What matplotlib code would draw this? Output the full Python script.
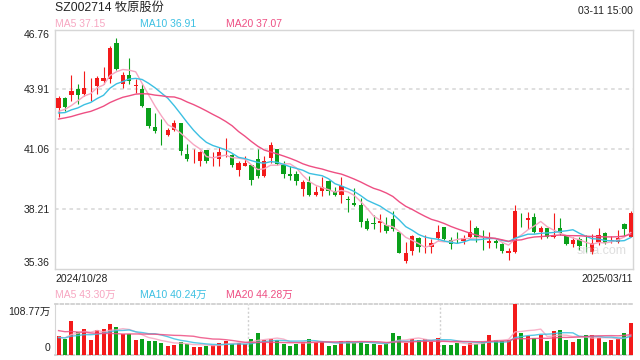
import matplotlib
matplotlib.use("Agg")
import matplotlib.pyplot as plt
import numpy as np
import pandas as pd

# ---- data ----
stock_title = "SZ002714 牧原股份"
stamp = "03-11 15:00"
first_date = "2024/10/28"
last_date = "2025/03/11"

# daily OHLC, 2024/10/28 .. 2025/03/11 (90 trading days)
open_ = [43.01, 43.51, 43.64, 43.91, 43.66, 44.00, 44.07, 44.31, 44.42, 46.11,
         44.18, 44.58, 44.06, 43.91, 43.00, 42.10, 41.98, 41.75, 41.99, 42.28,
         40.84, 40.57, 40.48, 41.00, 40.63, 40.56, 40.86, 40.75, 40.08, 40.27,
         40.32, 40.59, 39.76, 40.61, 41.04, 40.32, 39.89, 39.89, 39.15, 39.47,
         38.88, 39.04, 39.52, 39.04, 38.88, 38.65, 38.49, 38.40, 37.64, 37.50,
         37.52, 37.44, 37.73, 37.08, 35.73, 36.21, 36.81, 36.32, 36.38, 36.81,
         37.33, 36.72, 36.77, 36.69, 36.88, 37.29, 36.73, 36.60, 36.68, 36.53,
         36.09, 36.17, 37.73, 37.65, 37.81, 37.08, 37.29, 36.86, 37.29, 36.92,
         36.53, 36.76, 36.34, 36.17, 36.64, 37.07, 36.68, 36.64, 37.49, 36.88]
high = [43.59, 43.54, 44.58, 44.15, 44.80, 44.44, 44.55, 44.95, 45.98, 46.34,
        44.74, 45.38, 44.39, 44.18, 43.00, 42.79, 42.47, 42.08, 42.44, 42.32,
        41.28, 41.04, 40.96, 41.00, 40.91, 41.15, 41.60, 40.80, 40.48, 40.72,
        40.32, 41.07, 40.72, 41.39, 41.07, 40.48, 40.24, 40.00, 39.60, 39.79,
        39.31, 39.73, 39.60, 39.25, 39.71, 38.80, 39.20, 38.72, 37.76, 37.92,
        37.97, 37.84, 38.11, 37.08, 36.64, 36.96, 36.88, 36.96, 36.76, 37.44,
        37.33, 36.86, 37.08, 36.96, 37.65, 37.40, 37.20, 37.08, 36.76, 36.60,
        36.33, 38.40, 38.03, 38.05, 38.03, 37.40, 37.29, 38.03, 37.79, 36.96,
        36.88, 36.88, 36.96, 37.01, 37.28, 37.12, 36.92, 37.20, 37.55, 38.08]
low = [42.60, 42.87, 43.35, 43.19, 43.59, 43.35, 43.67, 44.18, 44.23, 44.82,
       43.99, 44.15, 43.75, 43.08, 42.04, 41.80, 41.24, 41.67, 41.91, 40.75,
       40.48, 40.40, 40.27, 40.40, 40.27, 40.24, 40.69, 40.19, 39.79, 40.24,
       39.36, 39.68, 39.73, 40.40, 40.32, 39.68, 39.60, 39.36, 38.83, 38.83,
       38.83, 38.83, 38.88, 38.80, 38.48, 38.05, 38.35, 37.36, 37.20, 37.24,
       37.12, 37.04, 37.17, 36.09, 35.64, 36.00, 36.16, 36.09, 36.09, 36.72,
       36.72, 36.28, 36.60, 36.52, 36.81, 36.64, 36.25, 36.33, 36.33, 36.12,
       35.77, 36.12, 37.36, 37.24, 37.04, 36.76, 36.81, 36.81, 36.96, 36.48,
       36.40, 36.24, 36.17, 36.05, 36.48, 36.53, 36.57, 36.57, 36.92, 36.85]
close = [43.48, 43.08, 43.81, 43.62, 43.96, 44.04, 44.47, 44.47, 45.87, 44.87,
         44.58, 44.31, 44.08, 43.11, 42.15, 41.91, 41.96, 41.95, 42.31, 40.95,
         40.56, 40.59, 40.91, 40.48, 40.65, 40.91, 40.88, 40.32, 40.37, 40.37,
         39.57, 39.76, 40.51, 41.23, 40.35, 39.89, 39.79, 39.52, 39.47, 38.88,
         38.99, 39.23, 39.04, 38.88, 39.28, 38.63, 38.40, 37.57, 37.25, 37.48,
         37.63, 37.16, 37.24, 36.12, 36.09, 36.92, 36.38, 36.34, 36.57, 37.12,
         36.76, 36.52, 36.75, 36.81, 37.12, 36.86, 36.71, 36.68, 36.57, 36.21,
         36.21, 38.11, 37.71, 37.79, 37.12, 37.29, 36.86, 36.91, 37.05, 36.53,
         36.72, 36.44, 36.32, 36.57, 36.96, 36.60, 36.70, 36.81, 37.24, 38.03]
# volume, 万 shares
volume = [40.8, 34.3, 71.5, 50.0, 55.0, 32.0, 53.6, 55.8, 67.0, 60.0,
          44.4, 45.0, 32.0, 34.3, 30.7, 30.7, 26.4, 19.3, 21.5, 28.6,
          23.6, 17.9, 17.9, 19.3, 21.5, 26.4, 30.7, 23.6, 26.4, 23.6,
          34.3, 47.9, 32.0, 34.3, 32.0, 23.6, 19.3, 23.6, 28.6, 34.3,
          28.6, 28.6, 19.3, 21.5, 30.7, 30.7, 26.4, 28.6, 23.6, 23.6,
          21.5, 23.6, 47.9, 40.8, 26.4, 34.3, 32.0, 34.3, 28.6, 36.5,
          21.5, 21.5, 26.4, 19.3, 26.4, 23.6, 28.6, 42.9, 32.0, 30.7,
          32.0, 108.77, 47.9, 40.8, 35.8, 42.9, 30.7, 51.5, 53.6, 32.0,
          28.6, 34.3, 42.9, 42.9, 35.8, 28.6, 32.0, 34.3, 47.9, 69.3]
# sessions before the window, only needed to start the moving averages
prev_close = [42.0, 42.5, 41.8, 42.3, 42.6, 42.1, 41.9, 42.4, 42.2, 42.2,
              42.9, 42.5, 42.7, 42.4, 43.0, 42.6, 42.9, 42.5, 42.8]
prev_volume = [80, 62, 75, 58, 70, 66, 60, 72, 64, 63,
               40, 33, 38, 35, 34, 41, 36, 38, 34]

price_ticks = [35.36, 38.21, 41.06, 43.91, 46.76]
vol_max = 108.77
ma_periods = [5, 10, 20]
ma_price_text = ["MA5 37.15", "MA10 36.91", "MA20 37.07"]
ma_vol_text = ["MA5 43.30万", "MA10 40.24万", "MA20 44.28万"]

# ---- style ----
plt.rcParams['font.family'] = ['Liberation Sans', 'Noto Sans CJK SC', 'DejaVu Sans']
UP, DOWN = '#f31a1a', '#0aa01a'
MA_COLORS = ['#f7a6c1', '#3cc0e2', '#ee4f83']
FRAME = '#d6d6d6'
TXT = '#222222'

W, H = 640, 360
fig = plt.figure(figsize=(6.4, 3.6), dpi=100)


def fx(px):
    return px / W


def fy(py):
    return 1 - py / H


ax = fig.add_axes([fx(55), fy(268.5), fx(633) - fx(55), fy(29.5) - fy(268.5)])
vax = fig.add_axes([fx(55), fy(355), fx(633) - fx(55), fy(304) - fy(355)])

n = len(close)
x = np.arange(n)
o = np.array(open_)
c = np.array(close)
colors = [UP if c[i] >= o[i] else DOWN for i in range(n)]

# moving averages
all_close = pd.Series(prev_close + close)
all_vol = pd.Series(prev_volume + volume)
ma_close = [all_close.rolling(p).mean().values[-n:] for p in ma_periods]
ma_vol = [all_vol.rolling(p).mean().values[-n:] for p in ma_periods]

# candles
ax.vlines(x, low, high, colors=colors, linewidth=0.8, zorder=3)
body_lo = np.minimum(o, c)
body_h = np.maximum(np.abs(c - o), 0.03)
ax.bar(x, body_h, bottom=body_lo, width=0.68, color=colors, linewidth=0, zorder=4)
for m, col in zip(ma_close, MA_COLORS):
    ax.plot(x, m, color=col, linewidth=1.0, zorder=5)

xlim = (-0.55, n - 0.65)
ax.set_xlim(*xlim)
ax.set_ylim(price_ticks[0], price_ticks[-1])
for t in price_ticks[1:-1]:
    ax.axhline(t, color='#dcdcdc', linewidth=1.3, linestyle=(0, (2, 2)), zorder=1)
ax.set_xticks([])
ax.set_yticks(price_ticks)
ax.set_yticklabels([f"{t:.2f}" for t in price_ticks])
ax.tick_params(axis='y', length=0, pad=4, labelsize=7.5, labelcolor=TXT)
labs = ax.get_yticklabels()
labs[0].set_verticalalignment('bottom')
labs[-1].set_verticalalignment('top')
for s in ax.spines.values():
    s.set_color(FRAME)
    s.set_linewidth(1.0)

# volume
vax.bar(x, volume, width=0.62, color=colors, linewidth=0, zorder=3)
for m, col in zip(ma_vol, MA_COLORS):
    vax.plot(x, m, color=col, linewidth=1.0, alpha=0.85, zorder=4)
vax.set_xlim(*xlim)
vax.set_ylim(0, vol_max)
vax.set_xticks([])
vax.set_yticks([])
vax.annotate(f"{vol_max:.2f}万", xy=(0, vol_max), xycoords=('axes fraction', 'data'),
             xytext=(-3, -6), textcoords='offset points', fontsize=7.5,
             color=TXT, ha='right', va='center')
vax.annotate("0", xy=(0, 0), xycoords=('axes fraction', 'data'),
             xytext=(-3, 5), textcoords='offset points', fontsize=7.5,
             color=TXT, ha='right', va='center')
for k in (1, 2):
    vax.axvline(xlim[0] + (xlim[1] - xlim[0]) * k / 3, color='#d0d0d0',
                linewidth=1.0, linestyle=(0, (1.5, 1.5)), zorder=1)
vax.spines['right'].set_visible(False)
vax.spines['left'].set_color(FRAME)
for side in ('top', 'bottom'):
    vax.spines[side].set_color('#d0d0d0')
    vax.spines[side].set_linestyle((0, (1.5, 1.5)))
    vax.spines[side].set_linewidth(1.3)

# texts
fig.text(fx(55), fy(8), stock_title, fontsize=8.8, color=TXT, va='center', ha='left')
fig.text(fx(633), fy(11.5), stamp, fontsize=7.5, color=TXT, va='center', ha='right')
for txt, col, px in zip(ma_price_text, MA_COLORS, (55, 140.5, 225.5)):
    fig.text(fx(px), fy(24), txt, fontsize=7.5, color=col, va='center', ha='left')
for txt, col, px in zip(ma_vol_text, MA_COLORS, (55, 140.5, 225.5)):
    fig.text(fx(px), fy(295), txt, fontsize=7.5, color=col, va='center', ha='left')
fig.text(fx(55), fy(278.5), first_date, fontsize=7.5, color=TXT, va='center', ha='left')
fig.text(fx(633), fy(278.5), last_date, fontsize=7.5, color=TXT, va='center', ha='right')
ax.text(0.945, 0.075, "sina.com", transform=ax.transAxes, fontsize=9,
        color='#c8c8c8', alpha=0.6, ha='center', va='center', zorder=6)

fig.savefig("out.png", dpi=100)
